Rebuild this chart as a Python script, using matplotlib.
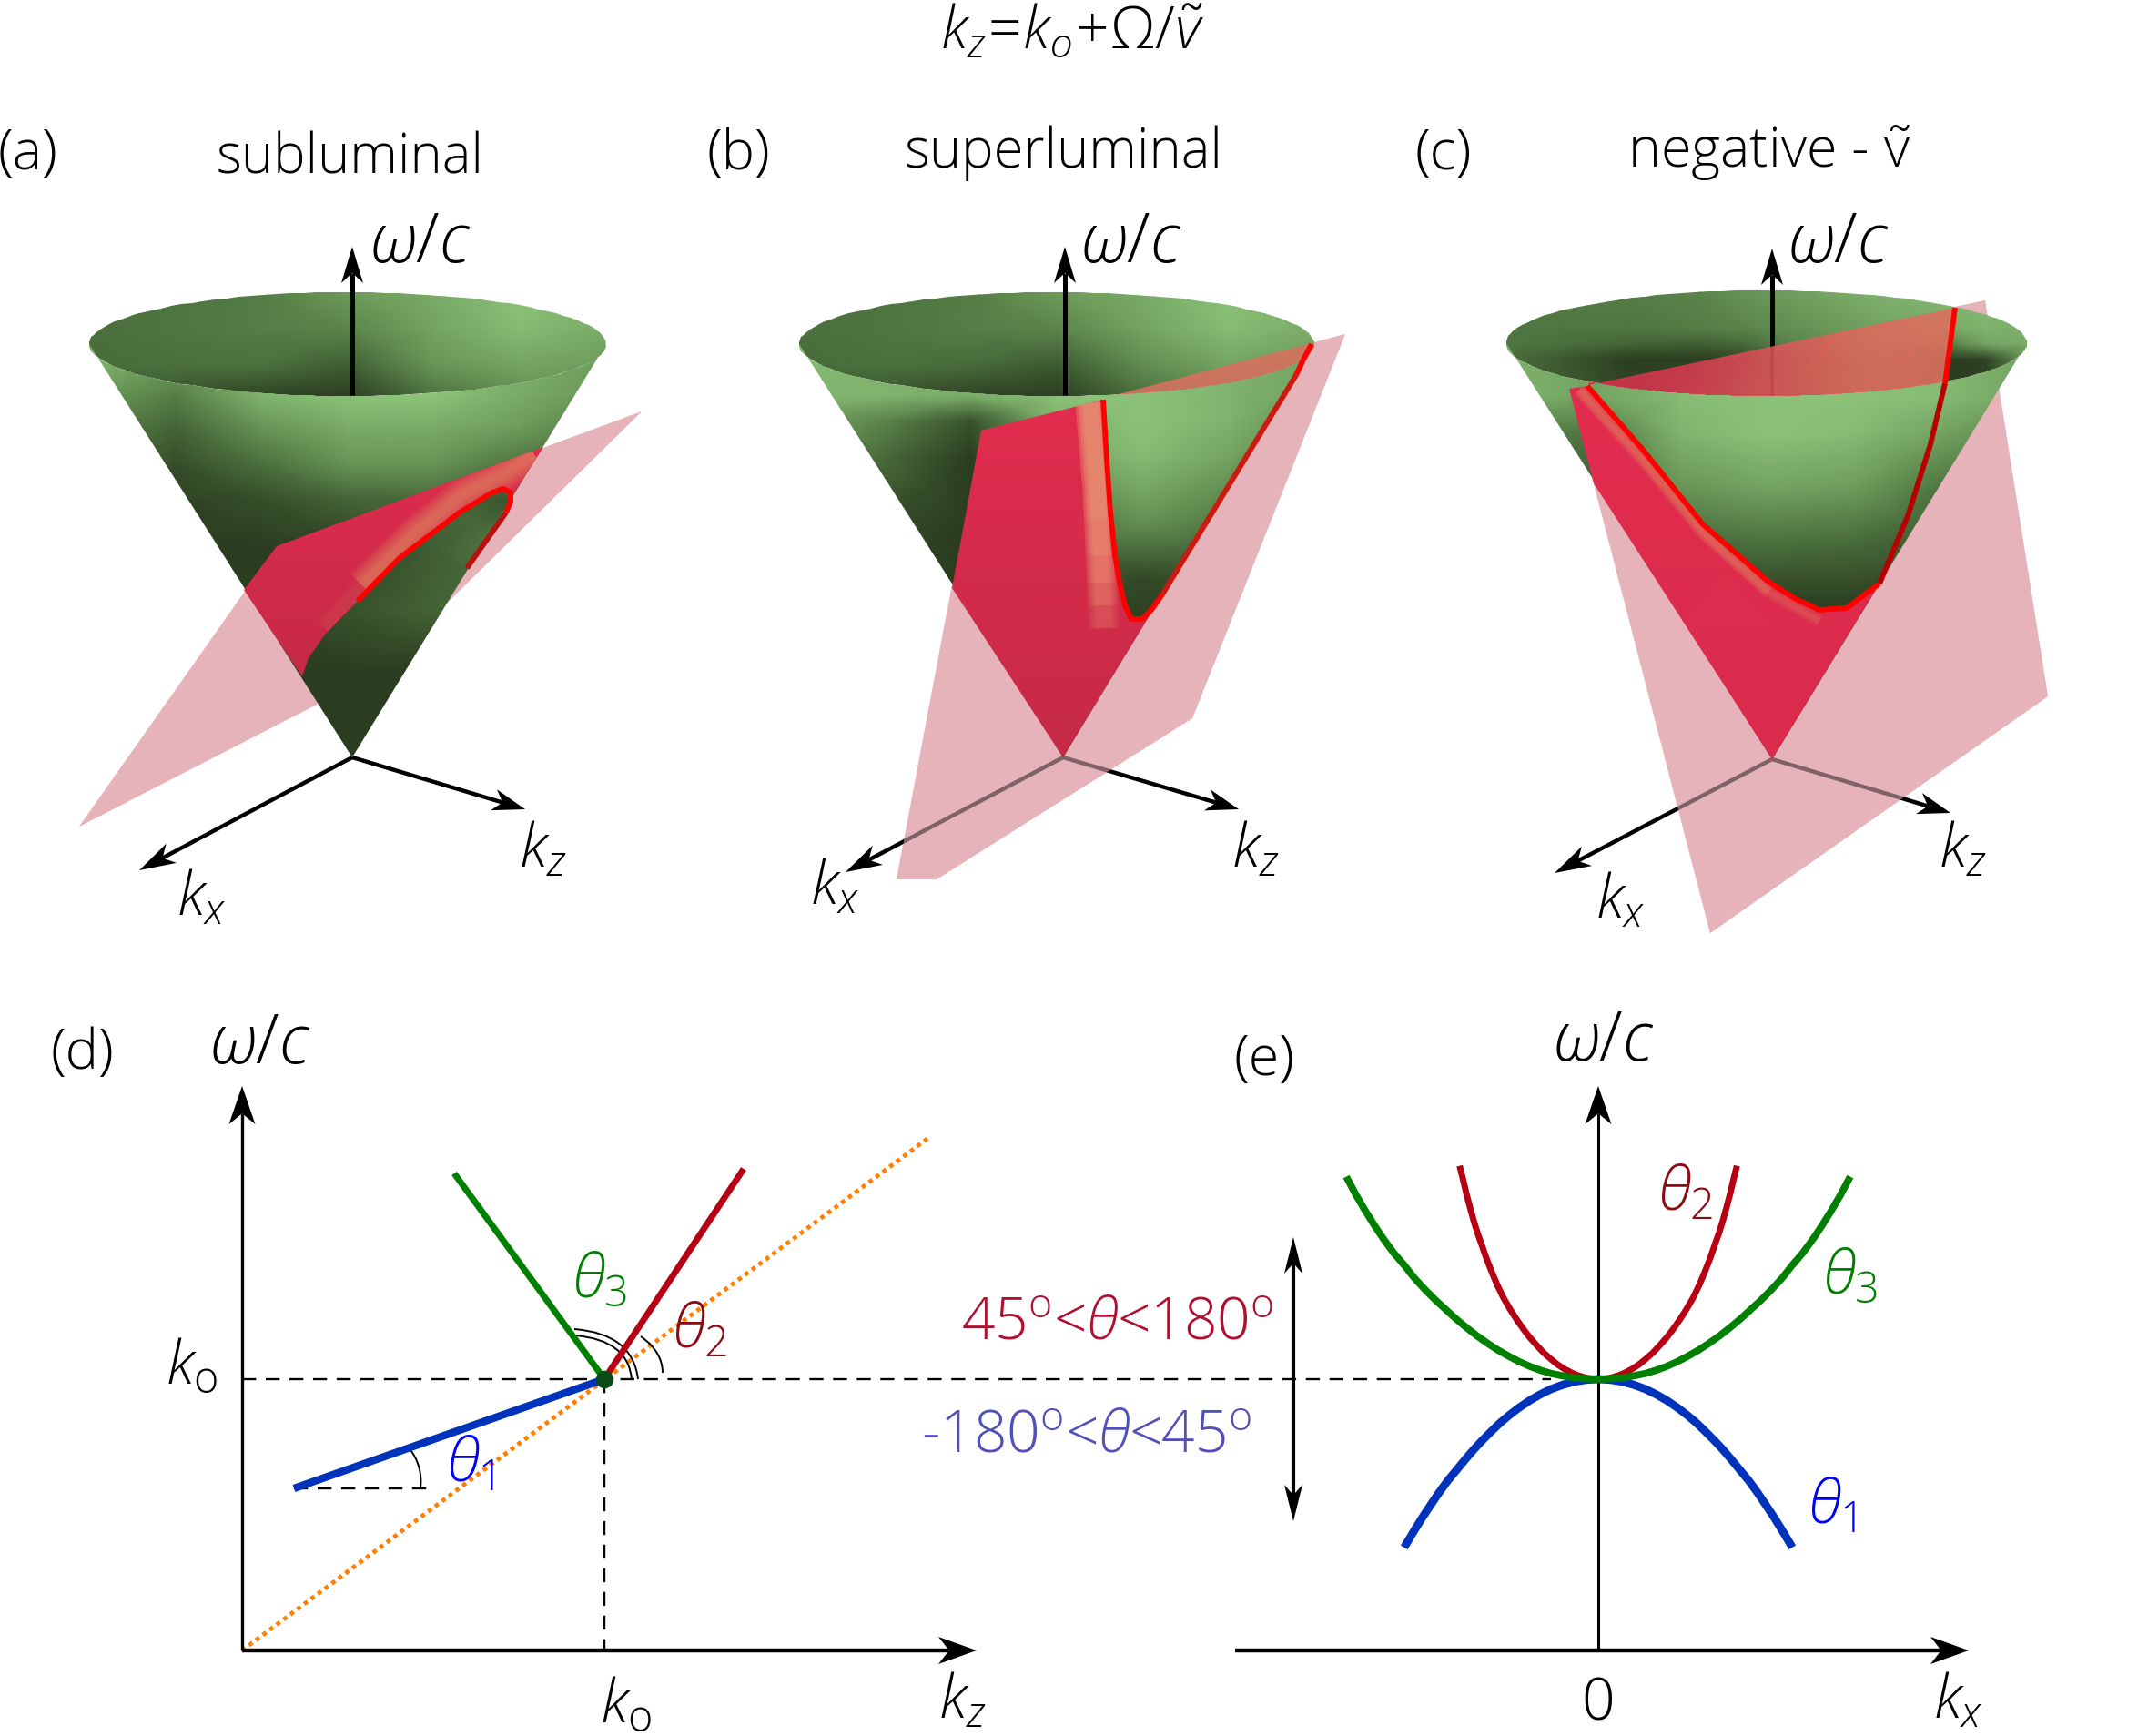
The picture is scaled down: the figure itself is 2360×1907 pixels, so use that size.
import numpy as np
import matplotlib
matplotlib.use('Agg')
import matplotlib.pyplot as plt
from matplotlib.colors import LinearSegmentedColormap
from matplotlib.path import Path
from matplotlib.patches import PathPatch

plt.rcParams['font.family'] = ['Open Sans', 'DejaVu Sans']
plt.rcParams['mathtext.fontset'] = 'custom'
plt.rcParams['mathtext.rm'] = 'Open Sans:weight=300'
plt.rcParams['mathtext.it'] = 'Open Sans:italic:weight=300'
plt.rcParams['mathtext.bf'] = 'Open Sans:bold'

# everything is in pixels of the 2360x1907 picture
TITLE = r'$k_z\!=\!k_o\!+\!\Omega/\tilde{v}$'
HEADS = ['subluminal', 'superluminal', r'negative - $\tilde{\mathrm{v}}$']
PANELS = ['(a)', '(b)', '(c)']

# cone rim: centre x, centre y, half width, half height
rim_a = (382, 378, 284, 57)
rim_b = (1161, 378, 283, 57)
rim_c = (1941, 377, 286, 58)
apex_a = (387, 832)
apex_b = (1168, 832)
apex_c = (1947, 834)

kz_tip_a = (577, 889)
kx_tip_a = (153, 956)
kz_tip_b = (1361, 889)
kx_tip_b = (929, 958)
kz_tip_c = (2143, 893)
kx_tip_c = (1708, 959)
w_a = (387, 434, 271)
w_b = (1170, 434, 271)
w_c = (1947, 436, 273)

# kz=k0+Omega/v plane
plane_a = [(87, 908), (304, 600), (705, 452), (410, 742)]
plane_b = [(1078, 473), (1478, 367), (1310, 789), (1029, 966), (985, 966)]
plane_c = [(1724, 427), (2181, 330), (2250, 765), (1879, 1025)]

# part of the plane in front of the cone
front_a = [(304, 600), (597, 491), (561, 548), (553, 538), (541, 541), (505, 563), (439, 613), (393, 660),
           (357, 697), (339, 723), (332, 743), (268, 648)]
front_b = [(1078, 473), (1212, 439), (1220, 563), (1230, 640), (1243, 680), (1255, 680), (1277, 653),
           (1168, 832), (1046, 646)]
front_c = [(1724, 427), (1744, 424), (1805, 494), (1871, 576), (1943, 639), (1999, 670), (2029, 668),
           (2065, 641), (1947, 834), (1751, 531)]

# the lighter band next to the red curve
glow_a = [(398, 643), (459, 583), (510, 542), (556, 519), (587, 499)]
glow_a_long = [(357, 690), (398, 643), (459, 583), (510, 542), (556, 519), (587, 499)]
glow_b = [(1198, 442), (1206, 536)]
glow_b_ends = [(1208, 570), (1210, 610), (1211, 640), (1212, 665), (1213, 690)]
glow_c = [(1735, 428), (1805, 505), (1871, 585), (1943, 650)]
glow_c_long = [(1735, 428), (1805, 505), (1871, 585), (1943, 650), (1999, 682)]

# intersection curves
curve_a = [(393, 660), (439, 613), (505, 563), (541, 541), (553, 537), (561, 541), (561, 551), (556, 563)]
curve_a_dark = [(556, 563), (513, 624)]
curve_b = [(1212, 439), (1216, 505), (1220, 563), (1225, 610), (1230, 640), (1236, 665), (1243, 680),
           (1255, 680), (1265, 670), (1277, 653)]
curve_b_dark = [(1277, 653), (1424, 412)]
curve_b_top = [(1424, 412), (1432, 395), (1441, 378)]
curve_c = [(1744, 424), (1805, 494), (1871, 576), (1943, 639), (1973, 658), (1999, 670), (2029, 668),
           (2065, 641)]
curve_c_dark = [(2065, 641), (2096, 567), (2121, 488), (2137, 421)]
curve_c_top = [(2137, 421), (2148, 338)]

salmon_b = [(1078, 473), (1478, 367), (1400, 520), (1078, 520)]
salmon_c_x = [1746, 1850, 1950, 2050, 2148]
salmon_c_y = [335, 440]
salmon_c_v = [[0, .15, .6, .9, 1.0], [0, .15, .6, .9, 1.0]]

in_x_a = [98, 193, 287, 382, 476, 570, 665]
in_y_a = [320, 362, 402, 436]
in_a = [[.45, .50, .55, .75, .85, 1.0, .90],
        [.45, .50, .55, .60, .80, .95, .85],
        [.40, .45, .45, .30, .70, .80, .75],
        [.30, .20, .05, .00, .45, .65, .70]]
out_x_a = [98, 193, 287, 382, 476, 570, 665]
out_y_a = [370, 435, 469, 509, 549, 603, 670, 737, 832]
out_a = [[1.0, .90, .95, .95, 1.0, .90, .80],
         [.75, .55, .90, 1.0, 1.0, .85, .70],
         [.60, .35, .70, .85, .85, .75, .55],
         [.50, .15, .45, .70, .70, .50, .30],
         [.40, .05, .15, .35, .40, .20, .20],
         [.00, .00, .00, .00, .30, .60, .50],
         [.00, .00, .00, .20, .35, .30, .20],
         [.00, .00, .00, .00, .00, .00, .00],
         [.00, .00, .00, .00, .00, .00, .00]]

in_x_b = [878, 972, 1067, 1161, 1256, 1350, 1445]
in_y_b = [320, 362, 402, 436]
in_b = [[.45, .50, .55, .75, .85, 1.0, .90],
        [.45, .50, .55, .60, .80, .95, .85],
        [.40, .45, .40, .25, .65, .80, .75],
        [.30, .20, .05, .00, .45, .60, .60]]
out_x_b = [878, 972, 1067, 1161, 1256, 1350, 1445]
out_y_b = [370, 435, 462, 502, 569, 636, 703, 832]
out_b = [[1.0, .90, .90, 1.0, 1.0, .90, .80],
         [.90, .90, .85, 1.0, 1.0, .90, .80],
         [.80, .60, .20, .90, 1.0, .90, .65],
         [.70, .40, .00, .80, .95, .80, .50],
         [.50, .15, .00, .50, .70, .55, .30],
         [.20, .00, .00, .30, .10, .25, .20],
         [.00, .00, .00, .00, .00, .00, .00],
         [.00, .00, .00, .00, .00, .00, .00]]

in_x_c = [1654, 1713, 1790, 1866, 1917, 1994, 2070, 2147, 2182, 2227]
in_y_c = [319, 361, 378, 395, 436]
in_c = [[.55, .55, .55, .60, .70, .80, .90, .95, .95, .90],
        [.50, .50, .50, .55, .60, .70, .80, .85, .90, .85],
        [.50, .45, .35, .30, .40, .65, .75, .60, .80, .85],
        [.45, .25, .00, .00, .10, .50, .60, .00, .05, .70],
        [.40, .30, .10, .20, .40, .50, .50, .00, .00, .60]]
out_x_c = [1654, 1750, 1845, 1941, 2036, 2132, 2227]
out_y_c = [370, 436, 476, 536, 597, 658, 833]
out_c = [[.90, .80, .95, 1.0, 1.0, .95, .80],
         [.90, .80, .95, 1.0, 1.0, .95, .80],
         [.60, .50, .90, 1.0, .95, .80, .60],
         [.30, .30, .70, .80, .75, .50, .30],
         [.20, .20, .40, .45, .40, .25, .20],
         [.00, .00, .05, .05, .05, .05, .00],
         [.00, .00, .00, .00, .00, .00, .00]]

# panel d
ko_point = (664, 1515)
d_origin = (266, 1813)
d_top = 1193
d_right = 1073
green_end = (499, 1289)
red_end = (817, 1284)
blue_end = (323, 1635)
orange_end = (1020, 1250)
hline_end = 1704
theta1_dash_end = 478

# panel e: distance from the axis, height over ko
e_axis = 1756
e_left = 1357
e_right = 2163
green_dx = [0, 13, 26, 39, 52, 64, 75, 87, 98, 110, 121, 133, 144, 156, 167, 179, 190, 202, 213, 225, 236, 246, 256,
            266, 275]
green_dy = [0, .4, 1.6, 3.6, 6.3, 9.9, 14, 19.3, 25, 31.8, 39, 47.4, 56, 66, 76, 87, 98, 111, 125, 139, 154, 169, 185,
            202, 219]
red_dx = [0, 8, 15, 22, 29, 37, 45, 52, 60, 67, 75, 82, 90, 97, 104, 111, 117, 123, 128, 132, 136, 141, 145, 148,
          151.5]
red_dy = [0, .5, 1.9, 4, 6.9, 11, 16.3, 22, 29, 36.5, 45.5, 54.6, 66, 77, 89, 103.5, 117.7, 133, 147.5, 158.6, 171,
          189, 204, 217, 231]
blue_dx = [0, 13, 26, 39, 52, 64, 75, 87, 98, 108, 117, 127, 136, 146, 155, 165, 174.5, 184, 193, 202, 211]
blue_dy = [0, -.7, -2.7, -6.2, -11, -16.9, -23.2, -31.3, -39.7, -48.2, -56.8, -66.8, -76.4, -88, -99, -111, -124,
           -138, -151.5, -166, -181]
range_x = 1421
range_top = 1359
range_bottom = 1671

GREEN = '#008000'
RED = '#b80014'
BLUE = '#0033bb'
ORANGE = '#ff8000'
PINK = '#e6b3ba'

cone_cmap = LinearSegmentedColormap.from_list('cone', ['#2b3d20', '#4f7540', '#8cc278'])
red_cmap = LinearSegmentedColormap.from_list('redp', ['#c42a46', '#e22c4e'])
salmon_cmap = LinearSegmentedColormap.from_list('salm', ['#d8304f', '#e0705f'])


def rim_points(rim, t0, t1, n=120):
    cx, cy, a, b = rim
    t = np.linspace(t0, t1, n)
    return np.column_stack([cx + a * np.cos(t), cy + b * np.sin(t)])


def closed(pts):
    pts = np.asarray(pts, float)
    return Path(np.vstack([pts, pts[0]]), closed=True)


def shade(ax, xs, ys, vals, cmap, clip, z, alpha=None):
    m = ax.pcolormesh(xs, ys, np.array(vals), shading='gouraud', cmap=cmap, vmin=0, vmax=1, zorder=z, alpha=alpha)
    m.set_clip_path(clip, ax.transData)
    return m


def arrow(ax, p0, p1, lw=3.0, hl=40, hw=23, z=5, color='k'):
    p0 = np.array(p0, float)
    p1 = np.array(p1, float)
    d = (p1 - p0) / np.hypot(*(p1 - p0))
    n = np.array([-d[1], d[0]])
    neck = p1 - d * hl * 0.72
    ax.plot([p0[0], neck[0]], [p0[1], neck[1]], color=color, lw=lw, solid_capstyle='butt', zorder=z)
    head = np.array([p1, p1 - d * hl + n * hw / 2, neck, p1 - d * hl - n * hw / 2])
    ax.fill(head[:, 0], head[:, 1], color=color, lw=0, zorder=z)


def line(ax, pts, color, lw, z, clip=None, alpha=None, cap='butt'):
    pts = np.array(pts, float)
    l, = ax.plot(pts[:, 0], pts[:, 1], color=color, lw=lw, zorder=z, alpha=alpha,
                 solid_capstyle=cap, solid_joinstyle='round')
    if clip is not None:
        l.set_clip_path(clip, ax.transData)
    return l


def cone(ax, rim, apex, plane, kz_tip, kx_tip, w, inner, outer):
    pl = np.array(plane, float)
    ax.fill(pl[:, 0], pl[:, 1], color=PINK, lw=0, zorder=1)
    arrow(ax, apex, kz_tip, lw=3.2, hl=36, hw=24, z=2)
    arrow(ax, apex, kx_tip, lw=3.2, hl=40, hw=24, z=2)
    ax.fill(pl[:, 0], pl[:, 1], color=PINK, alpha=0.55, lw=0, zorder=3)

    shade(ax, inner[0], inner[1], inner[2], cone_cmap, closed(rim_points(rim, 0, 2 * np.pi)), 4)
    arrow(ax, (w[0], w[1]), (w[0], w[2]), lw=3.6, hl=40, hw=24, z=5)
    sil = np.vstack([rim_points(rim, np.pi, 0), [apex]])
    shade(ax, outer[0], outer[1], outer[2], cone_cmap, closed(sil), 6)


fig = plt.figure(figsize=(23.6, 19.07), dpi=100)
ax = fig.add_axes([0, 0, 1, 1])

# cones
cone(ax, rim_a, apex_a, plane_a, kz_tip_a, kx_tip_a, w_a, (in_x_a, in_y_a, in_a), (out_x_a, out_y_a, out_a))
cone(ax, rim_b, apex_b, plane_b, kz_tip_b, kx_tip_b, w_b, (in_x_b, in_y_b, in_b), (out_x_b, out_y_b, out_b))
cone(ax, rim_c, apex_c, plane_c, kz_tip_c, kx_tip_c, w_c, (in_x_c, in_y_c, in_c), (out_x_c, out_y_c, out_c))

# plane seen through the opening
ell_b = closed(rim_points(rim_b, 0, 2 * np.pi))
p = np.array(salmon_b, float)
poly = ax.fill(p[:, 0], p[:, 1], color='#d9705e', alpha=0.88, lw=0, zorder=7)[0]
poly.set_clip_path(ell_b, ax.transData)
# upper edge of the plane, then along the front of the rim
open_c = np.vstack([[(1746, 423), (2148, 338), (2137, 419)], rim_points(rim_c, 0.816, 2.32)])
shade(ax, salmon_c_x, salmon_c_y, salmon_c_v, salmon_cmap, closed(open_c), 7, alpha=0.88)

# red front parts
fa = closed(front_a)
shade(ax, [260, 600], [490, 745], [[1, .9], [0, 0]], red_cmap, fa, 8)
fb = closed(front_b)
shade(ax, [1040, 1280], [430, 832], [[1, 1], [0, 0]], red_cmap, fb, 8)
fc = closed(front_c)
shade(ax, [1720, 2070], [420, 834], [[1, 1], [.7, .7]], red_cmap, fc, 8)

# lighter bands, soft edges from a stack of strokes
for wd in (16, 12, 8):
    line(ax, glow_a_long, '#e08a62', wd, 9, clip=fa, alpha=0.05)
for wd in (26, 22, 18, 14, 10, 6):
    line(ax, glow_a, '#e08a62', wd, 9, clip=fa, alpha=0.14)
for end in glow_b_ends:
    for wd in (24, 20, 16, 12):
        line(ax, glow_b + [end], '#f09a78', wd, 9, clip=fb, alpha=0.09)
for wd in (10, 7, 4):
    line(ax, glow_c_long, '#e08a62', wd, 9, clip=fc, alpha=0.12)
for wd in (10, 7, 4):
    line(ax, glow_c, '#e08a62', wd, 9, clip=fc, alpha=0.12)

# intersection curves
for c in (curve_a, curve_b, curve_b_top, curve_c, curve_c_top):
    line(ax, c, '#ff0000', 4.2, 10)
line(ax, curve_a_dark, '#bb1010', 4.2, 10)
line(ax, curve_b_dark, '#cc1a10', 4.2, 10)
line(ax, curve_c_dark, '#b80000', 4.2, 10)

# panel d
x0, y0 = d_origin
kx0, ky0 = ko_point
dash = (0, (6.5, 4.5))
ax.plot([x0, hline_end], [ky0, ky0], color='k', lw=1.7, ls=dash, zorder=2)
ax.plot([kx0, kx0], [ky0, y0], color='k', lw=1.7, ls=dash, zorder=2)
ax.plot([blue_end[0], theta1_dash_end], [blue_end[1], blue_end[1]], color='k', lw=1.7, ls=dash, zorder=2)
ax.plot([x0, orange_end[0]], [y0, orange_end[1]], color=ORANGE, lw=3.4, ls=(0, (1, 1)), zorder=3)
arrow(ax, (x0, y0), (x0, d_top), lw=2.4, hl=42, hw=29, z=4)
arrow(ax, (x0, y0), (d_right, y0), lw=3.2, hl=42, hw=30, z=4)
line(ax, [ko_point, green_end], GREEN, 5.0, 5)
line(ax, [ko_point, red_end], RED, 5.0, 5)
line(ax, [ko_point, blue_end], BLUE, 6.0, 5)
ax.plot([kx0], [ky0], 'o', color='#0a4a14', ms=14, mew=0, zorder=6)
for s, c, e in [((631, 1460), (695, 1465), (701, 1515)), ((632, 1467), (690, 1472), (694, 1515)),
                ((704, 1468), (728, 1485), (728, 1508)), ((449, 1590), (465, 1610), (462, 1635))]:
    arc = PathPatch(Path([s, c, e], [Path.MOVETO, Path.CURVE3, Path.CURVE3]), fc='none', ec='k', lw=1.4, zorder=4)
    ax.add_patch(arc)

# panel e
arrow(ax, (e_axis, y0), (e_axis, d_top), lw=2.2, hl=42, hw=29, z=4)
arrow(ax, (e_left, y0), (e_right, y0), lw=3.2, hl=42, hw=30, z=4)
for dx, dy, col, lw in [(blue_dx, blue_dy, BLUE, 6.4), (red_dx, red_dy, RED, 5.0), (green_dx, green_dy, GREEN, 5.6)]:
    dx = np.array(dx)
    dy = np.array(dy)
    xs = np.r_[e_axis - dx[::-1], e_axis + dx[1:]]
    ys = np.r_[ky0 - dy[::-1], ky0 - dy[1:]]
    ax.plot(xs, ys, color=col, lw=lw, zorder=5, solid_joinstyle='round')
mid = (range_top + range_bottom) / 2
arrow(ax, (range_x, mid), (range_x, range_top), lw=3.0, hl=40, hw=20, z=4)
arrow(ax, (range_x, mid), (range_x, range_bottom), lw=3.0, hl=40, hw=20, z=4)


def label(x, y, s, size=43, color='k'):
    ax.text(x, y, s, fontsize=size, color=color, ha='center', va='center', fontweight=300, zorder=20)


label(1178, 36, TITLE, 46)
for x, s in zip((30, 811, 1586), PANELS):
    label(x, 170, s, 44)
label(384, 175, HEADS[0])
label(1168, 168, HEADS[1])
label(1944, 168, HEADS[2], 44)

for x, y in [(462, 268), (1243, 268), (2020, 268), (286, 1148), (1762, 1145)]:
    label(x, y, r'$\omega/c$', 54)
for x, y in [(221, 988), (917, 976), (1780, 991), (2151, 1870)]:
    label(x, y, r'$k_x$', 48)
for x, y in [(597, 935), (1380, 935), (2157, 935), (1058, 1870)]:
    label(x, y, r'$k_z$', 48)
label(90, 1158, '(d)', 44)
label(1389, 1165, '(e)', 44)
label(211, 1502, r'$k_{\mathrm{o}}$', 48)
label(688, 1874, r'$k_{\mathrm{o}}$', 48)
label(1756, 1873, '0', 46)

label(658, 1407, r'$\theta_{\mathrm{3}}$', 48, GREEN)
label(768, 1463, r'$\theta_{\mathrm{2}}$', 48, '#8b0a14')
label(516, 1610, r'$\theta_{\mathrm{1}}$', 48, '#0000ff')
label(1851, 1312, r'$\theta_{\mathrm{2}}$', 48, '#8b0a14')
label(2032, 1403, r'$\theta_{\mathrm{3}}$', 48, GREEN)
label(2012, 1656, r'$\theta_{\mathrm{1}}$', 48, '#0000ff')
label(1228, 1454, r'45$^{\mathrm{o}}$<$\theta$<180$^{\mathrm{o}}$', 46, '#b01030')
label(1193, 1578, r'-180$^{\mathrm{o}}$<$\theta$<45$^{\mathrm{o}}$', 46, '#5050b8')

ax.set_xlim(0, 2360)
ax.set_ylim(1907, 0)
ax.axis('off')
fig.savefig('out.png', dpi=100, facecolor='white')
